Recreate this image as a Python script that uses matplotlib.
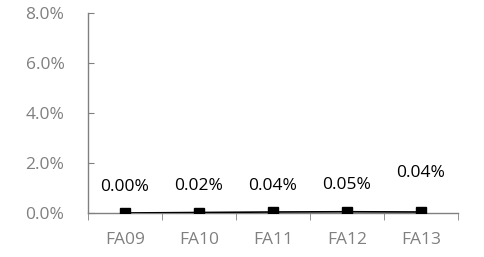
import matplotlib.pyplot as plt
from matplotlib.ticker import PercentFormatter

terms = ['FA09', 'FA10', 'FA11', 'FA12', 'FA13']
rates = [0.0000, 0.0002, 0.0004, 0.0005, 0.0004]
labels = ['0.00%', '0.02%', '0.04%', '0.05%', '0.04%']
yticks = [0.0, 0.02, 0.04, 0.06, 0.08]

grey = '#808080'
plt.rcParams['font.family'] = ['Open Sans', 'DejaVu Sans']

fig = plt.figure(figsize=(4.84, 2.57), dpi=100)
ax = fig.add_axes([88 / 484, 44 / 257, 370 / 484, 200 / 257])

x = range(len(terms))
ax.plot(x, rates, color='black', lw=1.2, marker='s', ms=6.5, zorder=3)

# label lift in points; the last one sits a bit higher in the original
lift = [19, 19, 19, 19, 28]
for i, (v, lab) in enumerate(zip(rates, labels)):
    ax.annotate(lab, (i, v), xytext=(0, lift[i]), textcoords='offset points',
                ha='center', va='center', fontsize=12.5, color='black')

ax.set_xlim(-0.5, len(terms) - 0.5)
ax.set_ylim(0, 0.08)
ax.set_yticks(yticks)
ax.yaxis.set_major_formatter(PercentFormatter(1.0, decimals=1))
ax.set_xticks(x)
ax.set_xticklabels(terms)
ax.set_xticks([i - 0.5 for i in range(len(terms) + 1)], minor=True)

for s in ['top', 'right']:
    ax.spines[s].set_visible(False)
for s in ['left', 'bottom']:
    ax.spines[s].set_color(grey)
    ax.spines[s].set_linewidth(1.0)

ax.tick_params(axis='x', which='major', length=0, labelcolor=grey, labelsize=12.5, pad=14)
ax.tick_params(axis='x', which='minor', length=5, color=grey, direction='out')
ax.tick_params(axis='y', length=4, color=grey, direction='in', labelcolor=grey, labelsize=12.5, pad=17)

fig.savefig('out.png', dpi=100)
